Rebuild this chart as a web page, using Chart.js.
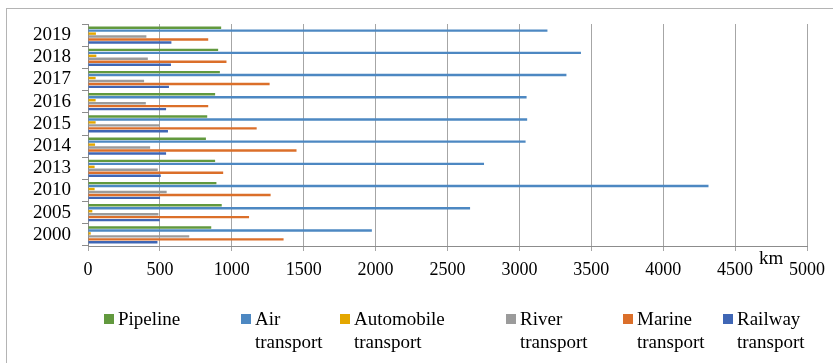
<!DOCTYPE html>
<html>
<head>
<meta charset="utf-8">
<script src="https://cdn.jsdelivr.net/npm/chart.js@4/dist/chart.umd.min.js"></script>
<style>
  html, body { margin: 0; padding: 0; background: #fff; }
  #wrap { position: relative; width: 833px; height: 363px; overflow: hidden; font-family: "Liberation Serif", "Times New Roman", serif; }
  #frame { position: absolute; left: 6px; top: 8px; width: 900px; height: 400px; border-left: 1px solid #b4b4b4; border-top: 1px solid #b4b4b4; }
  #chart { position: absolute; left: 0; top: 0; }
  #unit { position: absolute; left: 759px; top: 246px; font-size: 19px; line-height: 23px; color: #000; }
  .lg { position: absolute; top: 307px; font-size: 19px; line-height: 23px; color: #000; white-space: nowrap; }
  .lg i { position: absolute; left: -14px; top: 7px; width: 10px; height: 10px; }
</style>
</head>
<body>
<div id="wrap">
  <div id="frame"></div>
  <canvas id="chart" width="833" height="363"></canvas>
  <div id="unit">km</div>
  <div id="legend"></div>
</div>
<script>
// Length of transport routes by mode, km
const years      = ['2000', '2005', '2010', '2013', '2014', '2015', '2016', '2017', '2018', '2019'];
const pipeline   = [857, 930, 893, 884, 820, 829, 884, 917, 905, 926];
const air        = [1974, 2657, 4315, 2754, 3043, 3054, 3050, 3327, 3428, 3195];
const automobile = [19, 30, 46, 46, 49, 53, 53, 53, 58, 55];
const river      = [704, 490, 547, 485, 432, 499, 402, 390, 416, 406];
const marine     = [1360, 1120, 1270, 940, 1450, 1173, 836, 1263, 963, 836];
const railway    = [483, 499, 501, 506, 543, 556, 543, 563, 577, 580];

const seriesNames  = [['Pipeline'], ['Air', 'transport'], ['Automobile', 'transport'], ['River', 'transport'], ['Marine', 'transport'], ['Railway', 'transport']];
const seriesColors = ['#62993e', '#4d88c2', '#e4a700', '#9b9b9b', '#db6f2a', '#3f66b5'];
const seriesData   = [pipeline, air, automobile, river, marine, railway];
const xTicks = [0, 500, 1000, 1500, 2000, 2500, 3000, 3500, 4000, 4500, 5000];

// newest year at the top
const labels = years.slice().reverse();
const datasets = seriesData.map((d, i) => ({
  label: seriesNames[i].join(' '),
  data: d.slice().reverse(),
  backgroundColor: seriesColors[i],
  borderWidth: 0,
  categoryPercentage: 0.8,
  barPercentage: 0.82
}));

const serif = "'Liberation Serif', 'Times New Roman', serif";

new Chart(document.getElementById('chart'), {
  type: 'bar',
  data: { labels, datasets },
  options: {
    indexAxis: 'y',
    responsive: false,
    animation: false,
    events: [],
    layout: { padding: { left: 0, top: 24, right: 23, bottom: 0 } },
    plugins: { legend: { display: false }, tooltip: { enabled: false } },
    scales: {
      x: {
        min: 0, max: 5000,
        afterBuildTicks: s => { s.ticks = xTicks.map(v => ({ value: v })); },
        afterFit: s => { s.height = 117; },
        grid: { color: '#a6a6a6', lineWidth: 1, tickLength: 5, drawTicks: true },
        border: { display: true, color: '#8c8c8c' },
        ticks: { color: '#000', font: { family: serif, size: 18 }, padding: 8, maxRotation: 0, autoSkip: false,
                 callback: v => String(v) }
      },
      y: {
        afterFit: s => { s.width = 88; },
        grid: { drawOnChartArea: false, drawTicks: true, tickLength: 6, color: '#8c8c8c', offset: true },
        border: { display: true, color: '#8c8c8c' },
        ticks: { color: '#000', font: { family: serif, size: 19 }, padding: 11, autoSkip: false }
      }
    }
  }
});

// legend below the plot
const legendLeft = [118, 255, 354, 520, 637, 737];
const legend = document.getElementById('legend');
seriesNames.forEach((name, i) => {
  const item = document.createElement('div');
  item.className = 'lg';
  item.style.left = legendLeft[i] + 'px';
  const sw = document.createElement('i');
  sw.style.background = seriesColors[i];
  item.appendChild(sw);
  name.forEach((line, j) => {
    if (j) item.appendChild(document.createElement('br'));
    item.appendChild(document.createTextNode(line));
  });
  legend.appendChild(item);
});
</script>
</body>
</html>
